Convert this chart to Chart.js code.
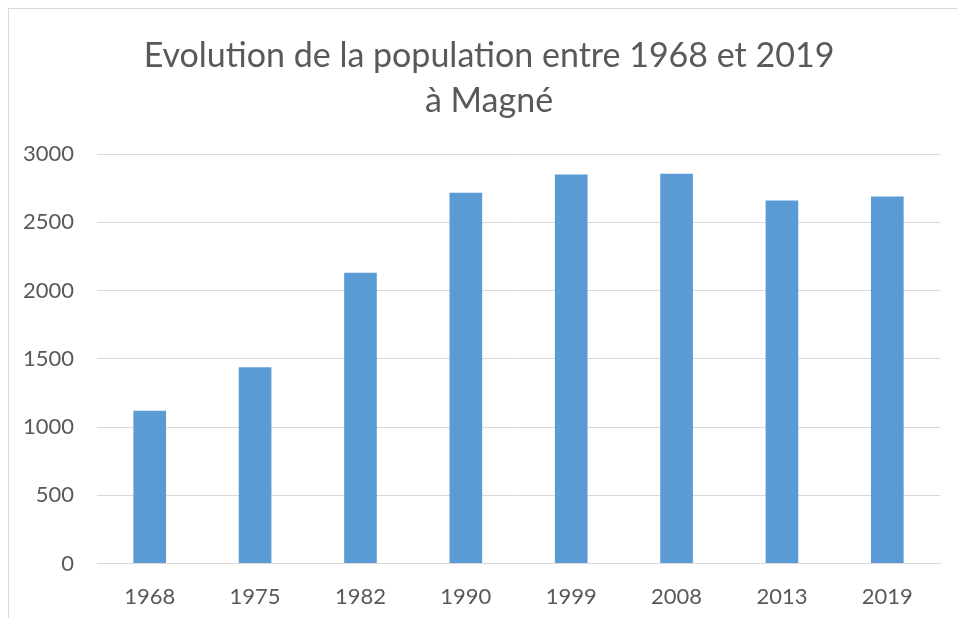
<!DOCTYPE html>
<html>
<head>
<meta charset="utf-8">
<script src="https://cdn.jsdelivr.net/npm/chart.js@4/dist/chart.umd.min.js"></script>
<style>
  html, body { margin: 0; padding: 0; background: #fff; overflow: hidden; }
  #wrap { position: relative; width: 957px; height: 618px; overflow: hidden; }
  #frame { position: absolute; left: 8px; top: 8px; width: 960px; height: 620px; border-left: 1px solid #d9d9d9; border-top: 1px solid #d9d9d9; }
  #chart { position: absolute; left: 0; top: 0; }
</style>
</head>
<body>
<div id="wrap">
  <div id="frame"></div>
  <canvas id="chart" width="957" height="640"></canvas>
</div>
<script>
// Data
var years = [ '1968', '1975', '1982', '1990', '1999', '2008', '2013', '2019' ];
var population = [ 1120, 1439, 2130, 2717, 2849, 2856, 2660, 2688 ];
var yTicks = [ 0, 500, 1000, 1500, 2000, 2500, 3000 ];
var titleLines = [ 'Evolution de la population entre 1968 et 2019', 'à Magné' ];

var textColor = '#595959';
var gridColor = '#d9d9d9';
var fontFamily = 'Lato, "Open Sans", sans-serif';

// title drawn by hand so it can sit off-centre like the original
var titlePlugin = {
	id: 'offsetTitle',
	afterDraw: function( chart ) {
		var c = chart.ctx;
		c.save();
		c.fillStyle = textColor;
		c.font = '34px ' + fontFamily;
		c.textAlign = 'center';
		c.textBaseline = 'middle';
		titleLines.forEach( function( line, i ) {
			c.fillText( line, 489, 56 + i * 45 );
		} );
		c.restore();
	}
};

var ctx = document.getElementById( 'chart' );
var chart = new Chart( ctx, {
	type: 'bar',
	data: {
		labels: years,
		datasets: [ {
			data: population,
			backgroundColor: '#5b9bd5',
			borderWidth: 0,
			categoryPercentage: 1,
			barPercentage: 0.31,
		} ]
	},
	options: {
		responsive: false,
		animation: false,
		layout: {
			padding: { left: 0, right: 17, top: 154, bottom: 10 }
		},
		plugins: {
			legend: { display: false },
			tooltip: { enabled: false },
			title: { display: false },
		},
		scales: {
			x: {
				grid: { display: false, drawTicks: false },
				border: { display: true, color: gridColor, width: 1 },
				ticks: { color: textColor, font: { family: fontFamily, size: 22 }, padding: 20 },
			},
			y: {
				min: 0,
				max: 3000,
				afterBuildTicks: function( axis ) {
					axis.ticks = yTicks.map( function( v ) { return { value: v }; } );
				},
				grid: { color: gridColor, lineWidth: 1, drawTicks: false },
				border: { display: false },
				ticks: {
					color: textColor,
					font: { family: fontFamily, size: 22 },
					padding: 23,
					callback: function( value ) { return String( value ); },
				},
			}
		}
	},
	plugins: [ titlePlugin ]
} );
</script>
</body>
</html>
